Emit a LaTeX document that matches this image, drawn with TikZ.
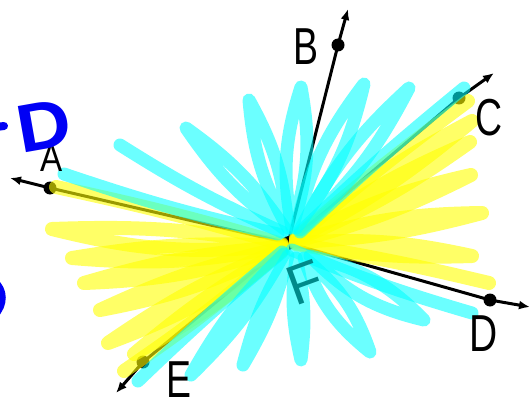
\documentclass[tikz,border=0pt]{standalone}
\usepackage{fontspec}
\newfontfamily\hand{Liberation Sans}
\usetikzlibrary{arrows.meta}
\definecolor{fteal}{RGB}{0,138,138}
\definecolor{hcyan}{RGB}{0,255,255}
\definecolor{hyel}{RGB}{255,255,0}
\definecolor{pblue}{RGB}{0,0,245}
\begin{document}
\begin{tikzpicture}[x=1pt,y=-1pt,
  ray/.style={line width=3pt,line join=round,-{Latex[length=11pt,width=9pt]}},
  pt/.style={circle,fill=black,inner sep=0pt,minimum size=13pt},
  cy/.style={draw=hcyan,draw opacity=0.58,line width=13pt,line cap=round,line join=round},
  yl/.style={draw=hyel,draw opacity=0.6,line width=14pt,line cap=round,line join=round},
  lab/.style={inner sep=0pt,font=\hand\fontsize{52}{52}\selectfont},
  labs/.style={inner sep=0pt,font=\hand\fontsize{39}{39}\selectfont}]
\useasboundingbox (0,0) rectangle (532,401);
\clip (0,0) rectangle (532,401);
% points
\coordinate (O) at (288,243);
\node[pt] (A) at (50,188) {};
\node[pt] (B) at (338,45) {};
\node[pt] (C) at (459,98) {};
\node[pt] (D) at (490,300) {};
\node[pt] (E) at (143,362) {};
\coordinate (tA) at (10,178);
\coordinate (tB) at (348,9);
\coordinate (tC) at (494,73);
\coordinate (tD) at (530,307);
\coordinate (tE) at (116,393);
% rays
\draw[ray] (O) -- (A.center) -- (tA);
\draw[ray] (O) -- (B.center) -- (tB);
\draw[ray] (O) -- (C.center) -- (tC);
\draw[ray] (O) -- (D.center) -- (tD);
\draw[ray] (O) -- (E.center) -- (tE);
\fill (O) circle (7pt);
% yellow left wedge
\draw[yl] (56,187) to[bend left=2] (282,244);
\draw[yl] (282,245) to[bend left=10] (52,229) to[bend left=6] (282,245);
\draw[yl] (282,246) to[bend left=8] (72,258) to[bend left=6] (282,246);
\draw[yl] (282,247) to[bend left=8] (84,283) to[bend left=6] (282,247);
\draw[yl] (282,248) to[bend left=8] (100,310) to[bend left=6] (282,248);
\draw[yl] (282,249) to[bend left=8] (108,343) to[bend left=6] (282,249);
\draw[yl] (282,250) to[bend left=6] (134,354) to[bend left=5] (282,250);
\draw[yl] (124,371) to[bend right=3] (282,250);
% yellow right wedge
\draw[yl] (468,101) to[bend right=2] (296,238);
\draw[yl] (296,239) to[bend left=6] (472,121) to[bend left=6] (296,239);
\draw[yl] (296,240) to[bend left=6] (470,142) to[bend left=6] (296,240);
\draw[yl] (296,241) to[bend left=8] (471,175) to[bend left=6] (296,241);
\draw[yl] (296,242) to[bend left=8] (482,213) to[bend left=6] (296,242);
\draw[yl] (296,243) to[bend left=8] (472,256) to[bend left=6] (296,243);
\draw[yl] (296,244) to[bend left=2] (489,283);
% cyan upper
\draw[cy] (64,174) to[bend right=3] (278,234);
\draw[cy] (120,145) to[bend right=4] (282,232);
\draw[cy] (286,230) to[bend left=10] (186,128) to[bend left=10] (286,230);
\draw[cy] (288,228) to[bend left=12] (249,100) to[bend left=12] (288,228);
\draw[cy] (292,228) to[bend left=14] (301,87) to[bend left=14] (292,228);
\draw[cy] (296,228) to[bend left=12] (364,84) to[bend left=12] (296,228);
\draw[cy] (300,230) to[bend left=10] (409,88) to[bend left=10] (300,230);
\draw[cy] (464,88) to[bend right=2] (300,232);
% cyan lower
\draw[cy] (138,381) to[bend left=2] (282,252);
\draw[cy] (284,254) to[bend left=8] (191,375) to[bend left=8] (284,254);
\draw[cy] (288,256) to[bend left=8] (243,365) to[bend left=8] (288,256);
\draw[cy] (296,258) to[bend left=10] (301,360) to[bend left=10] (296,258);
\draw[cy] (304,258) to[bend left=16] (370,352) to[bend left=16] (304,258);
\draw[cy] (310,256) to[bend left=16] (424,320) to[bend left=16] (310,256);
\draw[cy] (292,250) to[bend right=3] (472,313);
% labels
\node[labs] (lA) at (52,158) {\scalebox{0.85}[1]{A}};
\node[lab] (lB) at (306,47) {\scalebox{0.72}[1]{B}};
\node[lab] (lC) at (489,118) {\scalebox{0.72}[1]{C}};
\node[lab] (lD) at (484,334) {\scalebox{0.75}[1]{D}};
\node[lab] (lE) at (179,380) {\scalebox{0.72}[1]{E}};
\node[inner sep=0pt,text=fteal,rotate=20,font=\hand\fontsize{56}{56}\selectfont] (lF) at (305,283) {F};
% blue marks
\node[inner sep=0pt,text=pblue,rotate=10,font=\hand\bfseries\fontsize{68}{68}\selectfont] (bD) at (44,126) {\scalebox{1.1}[1]{D}};
\draw[pblue,line width=8pt,line cap=round] (-4,127) -- (4,126);
\draw[pblue,line width=7pt,line cap=round] (-6,281) .. controls (5,290) and (5,305) .. (-6,316);
\end{tikzpicture}
\end{document}
